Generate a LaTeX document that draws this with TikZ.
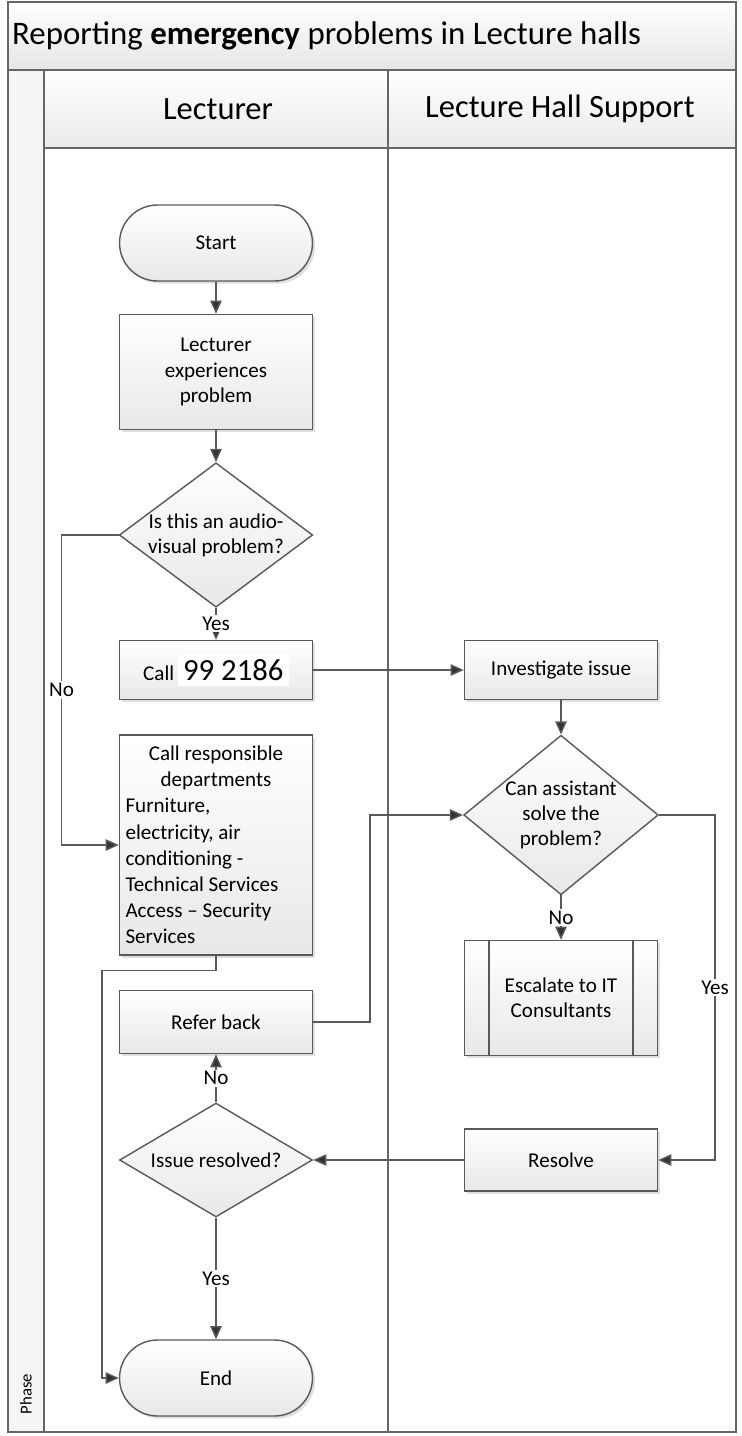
\documentclass[tikz,border=0pt]{standalone}
\usepackage{fontspec}
\setmainfont{Carlito}
\usetikzlibrary{shapes.geometric,arrows.meta,shadows}

\begin{document}
\begin{tikzpicture}[x=0.02cm,y=-0.02cm,
    flow/.style={line width=0.8pt,draw=black!65},
    arr/.style={flow,-{Triangle[length=7.5pt,width=6.5pt,fill=black!80]}},
    base/.style={draw=black!65,line width=0.8pt,top color=white,bottom color=black!9,
        minimum width=3.86cm,align=center,font=\fontsize{12}{14.3}\selectfont,inner sep=2pt},
    box/.style={base,drop shadow={opacity=0.25,shadow xshift=1.5pt,shadow yshift=-1.5pt}},
    term/.style={box,rounded corners=0.76cm,minimum height=1.52cm},
    decide/.style={base,diamond,aspect=#1,inner sep=0pt},
    tag/.style={fill=white,inner sep=1pt,font=\fontsize{12}{14}\selectfont}]
    \useasboundingbox (0,0) rectangle (742,1436);
    % pool and lanes
    \fill[black!4] (8,70) rectangle (44,1432);
    \shade[top color=white,bottom color=black!10] (8,2) rectangle (736,70);
    \shade[top color=white,bottom color=black!8] (44,70) rectangle (736,148);
    \draw[black!60,line width=0.8pt] (8,2) rectangle (736,1432);
    \draw[black!60,line width=1.5pt] (8,70) -- (736,70);
    \draw[black!60,line width=0.8pt] (44,70) -- (44,1432) (44,148) -- (736,148) (388,70) -- (388,1432);
    \node[anchor=west,font=\fontsize{18.7}{22}\selectfont] (title) at (6,36) {Reporting \textbf{emergency} problems in Lecture halls};
    \node[font=\fontsize{18.5}{22}\selectfont] (lanea) at (218,109) {Lecturer};
    \node[font=\fontsize{18.5}{22}\selectfont] (laneb) at (560,109) {Lecture Hall Support};
    \node[rotate=90,font=\fontsize{9.5}{11}\selectfont] (phase) at (26,1394) {Phase};
    % lecturer
    \node[term] (start) at (216,243) {Start};
    \node[box,minimum height=2.3cm] (exp) at (216,372) {Lecturer\\experiences\\problem};
    \node[decide=1.34,minimum width=3.86cm,minimum height=2.88cm] (av) at (216,535) {Is this an audio-\\visual problem?};
    \node[box,minimum height=1.18cm] (call) at (216,670) {Call\,\colorbox{white}{\fontsize{17.5}{19}\selectfont 99 2186}};
    \node[box,minimum height=4.4cm,text width=3.62cm,inner sep=3pt,align=flush left,
        font=\fontsize{12}{14.9}\selectfont] (dept) at (216,845)
        {{\centering Call responsible\\departments\par}Furniture,\\electricity, air\\conditioning -\\Technical Services\\Access – Security\\Services};
    \node[box,minimum height=1.26cm] (refer) at (216,1022) {Refer back};
    \node[decide=1.7,minimum width=3.86cm,minimum height=2.28cm] (iss) at (216,1160) {Issue resolved?};
    \node[term] (end) at (216,1378) {End};
    % support
    \node[box,minimum height=1.18cm] (inv) at (561,670) {Investigate issue};
    \node[decide=1.22,minimum width=3.82cm,minimum height=3.12cm] (can) at (561,815) {Can assistant\\solve the\\problem?};
    \node[box,minimum height=2.3cm] (esc) at (561,998) {Escalate to IT\\Consultants};
    \draw[flow] ([xshift=0.5cm]esc.north west) -- ([xshift=0.5cm]esc.south west)
        ([xshift=-0.5cm]esc.north east) -- ([xshift=-0.5cm]esc.south east);
    \node[box,minimum height=1.24cm] (res) at (561,1160) {Resolve};
    % connectors
    \draw[arr] (start) -- (exp);
    \draw[arr] (exp) -- (av);
    \draw[arr] (av) -- node[tag] {Yes} (call);
    \draw[arr] (av.west) -- ++(-57,0) |- node[tag,pos=0.25] {No} (dept);
    \draw[arr] (call) -- (inv);
    \draw[arr] (inv) -- (can);
    \draw[arr] (can) -- node[tag] {No} (esc);
    \draw[arr] (can.east) -- ++(56,0) |- node[tag,pos=0.25] {Yes} (res);
    \draw[arr] (res) -- (iss);
    \draw[arr] (iss) -- node[tag] {No} (refer);
    \draw[arr] (refer.east) -- ++(57,0) |- (can.west);
    \draw[arr] (iss) -- node[tag] {Yes} (end);
    \draw[arr] (dept.south) -- ++(0,15) -- ++(-114,0) |- (end);
\end{tikzpicture}
\end{document}
